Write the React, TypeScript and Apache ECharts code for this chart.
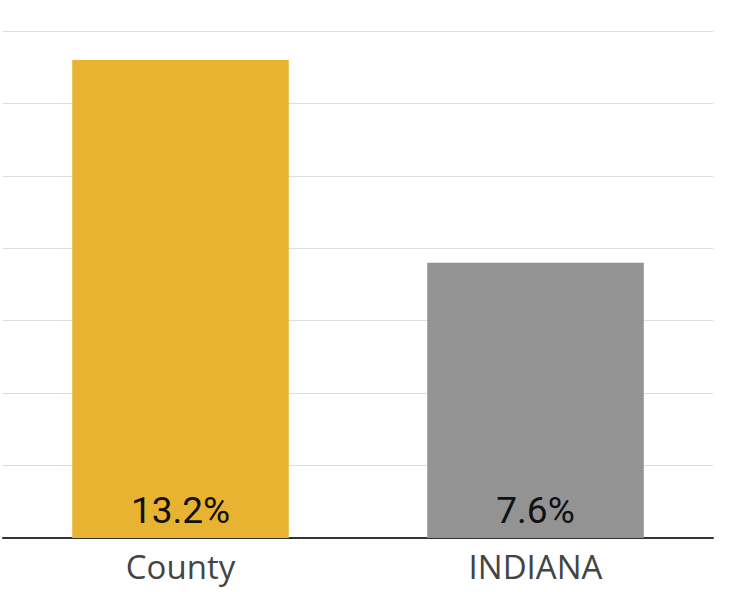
import React, { useEffect, useRef } from "react";
import * as echarts from "echarts";

const categories = ["County", "INDIANA"];
const values = [13.2, 7.6];
const barColors = ["#E8B330", "#939393"];

export default function App() {
  const ref = useRef<HTMLDivElement>(null);
  useEffect(() => {
    document.body.style.margin = "0";
    const chart = echarts.init(ref.current!, null, { renderer: "svg" });
    chart.setOption({
      animation: false,
      backgroundColor: "#ffffff",
      grid: { left: 3, right: 30, top: 31, bottom: 54, containLabel: false },
      xAxis: {
        type: "category",
        data: categories,
        axisLine: { lineStyle: { color: "#333333", width: 2 } },
        axisTick: { show: false },
        axisLabel: {
          color: "#444444",
          fontSize: 33,
          fontFamily: "'Open Sans', sans-serif",
          margin: 12,
        },
      },
      yAxis: {
        type: "value",
        min: 0,
        max: 14,
        interval: 2,
        axisLabel: { show: false },
        axisLine: { show: false },
        axisTick: { show: false },
        splitLine: { lineStyle: { color: "#dddddd", width: 1 } },
      },
      series: [
        {
          type: "bar",
          barWidth: "61%",
          data: values.map((v, i) => ({ value: v, itemStyle: { color: barColors[i] } })),
          label: {
            show: true,
            position: "insideBottom",
            distance: 9,
            formatter: (p: any) => p.value.toFixed(1) + "%",
            color: "#111111",
            fontSize: 37,
            fontFamily: "Roboto, sans-serif",
          },
        },
      ],
    });
    return () => chart.dispose();
  }, []);
  return <div ref={ref} style={{ width: 743, height: 592 }} />;
}
